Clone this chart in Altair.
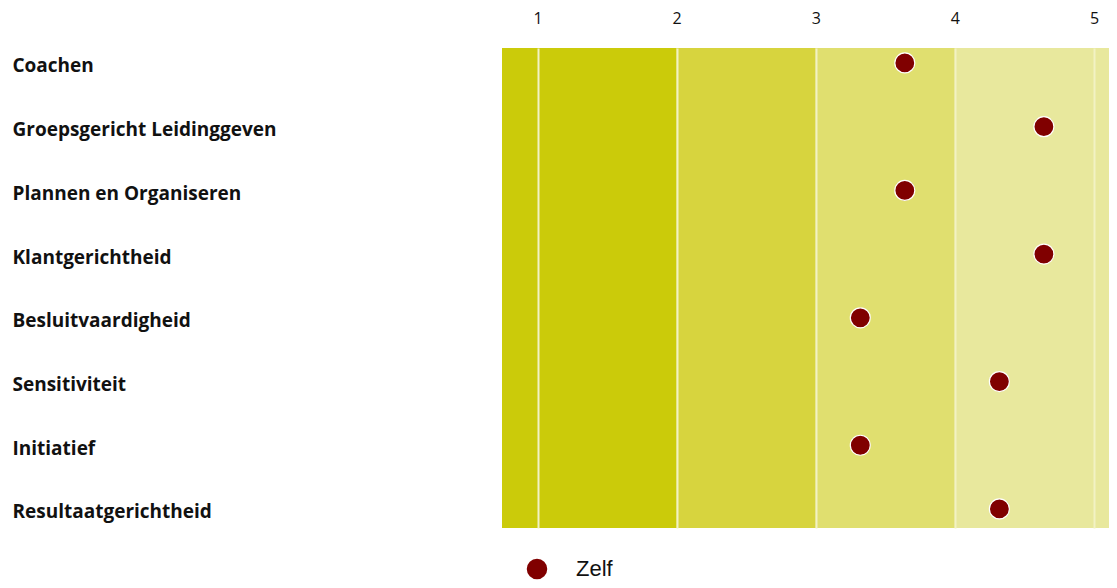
import altair as alt
import pandas as pd

categories = ["Coachen", "Groepsgericht Leidinggeven", "Plannen en Organiseren",
              "Klantgerichtheid", "Besluitvaardigheid", "Sensitiviteit",
              "Initiatief", "Resultaatgerichtheid"]
zelf_values = [3.64, 4.64, 3.64, 4.64, 3.32, 4.32, 3.32, 4.32]
series_name = "Zelf"

band_start = [0.744, 2, 3, 4]
band_end = [2, 3, 4, 5.108]
band_colors = ["#CBCB0A", "#D7D43E", "#E0DF6F", "#E8E89D"]
tick_values = [1, 2, 3, 4, 5]

x_domain = [0.744, 5.108]

pts = pd.DataFrame({"cat": categories, "value": zelf_values, "series": series_name})
bands = pd.DataFrame({"start": band_start, "end": band_end, "color": band_colors})

xscale = alt.Scale(domain=x_domain, nice=False, zero=False)

band_layer = alt.Chart(bands).mark_rect().encode(
    x=alt.X("start:Q", scale=xscale,
            axis=alt.Axis(orient="top", values=tick_values, format="d", title=None, grid=True,
                          gridColor="#F2F2C4", gridWidth=2, gridOpacity=1,
                          ticks=False, domain=False, labelFont="Open Sans",
                          labelFontSize=16, labelColor="#111111", labelPadding=22,
                          labelBaseline="bottom", zindex=1)),
    x2="end:Q",
    color=alt.Color("color:N", scale=None),
)

point_layer = alt.Chart(pts).mark_point(filled=True, size=400, stroke="white",
                                        strokeWidth=1.2, opacity=1).encode(
    x=alt.X("value:Q", scale=xscale),
    y=alt.Y("cat:N", sort=categories,
            scale=alt.Scale(domain=categories, padding=0.267, align=0.44),
            axis=alt.Axis(title=None, ticks=False, domain=False, grid=False,
                          labelAlign="left", labelPadding=490, labelOffset=3,
                          labelFont="Open Sans", labelFontWeight="bold",
                          labelFontSize=19, labelColor="#111111", labelLimit=480)),
    color=alt.Color("series:N", scale=alt.Scale(domain=[series_name], range=["#800000"]),
                    legend=alt.Legend(title=None, orient="none", legendX=24, legendY=510,
                                      symbolType="circle", symbolSize=420,
                                      symbolStrokeWidth=0, labelFont="Liberation Sans",
                                      labelFontSize=22, labelColor="#111111",
                                      labelOffset=28, padding=0)),
)

chart = alt.layer(band_layer, point_layer).resolve_scale(color="independent").properties(
    width=607, height=480,
    autosize=alt.AutoSizeParams(type="none"),
    padding={"left": 494, "top": 40, "right": 0, "bottom": 52},
).configure_view(stroke=None)

chart.save("out.html", embed_options={"renderer": "svg", "actions": False})
